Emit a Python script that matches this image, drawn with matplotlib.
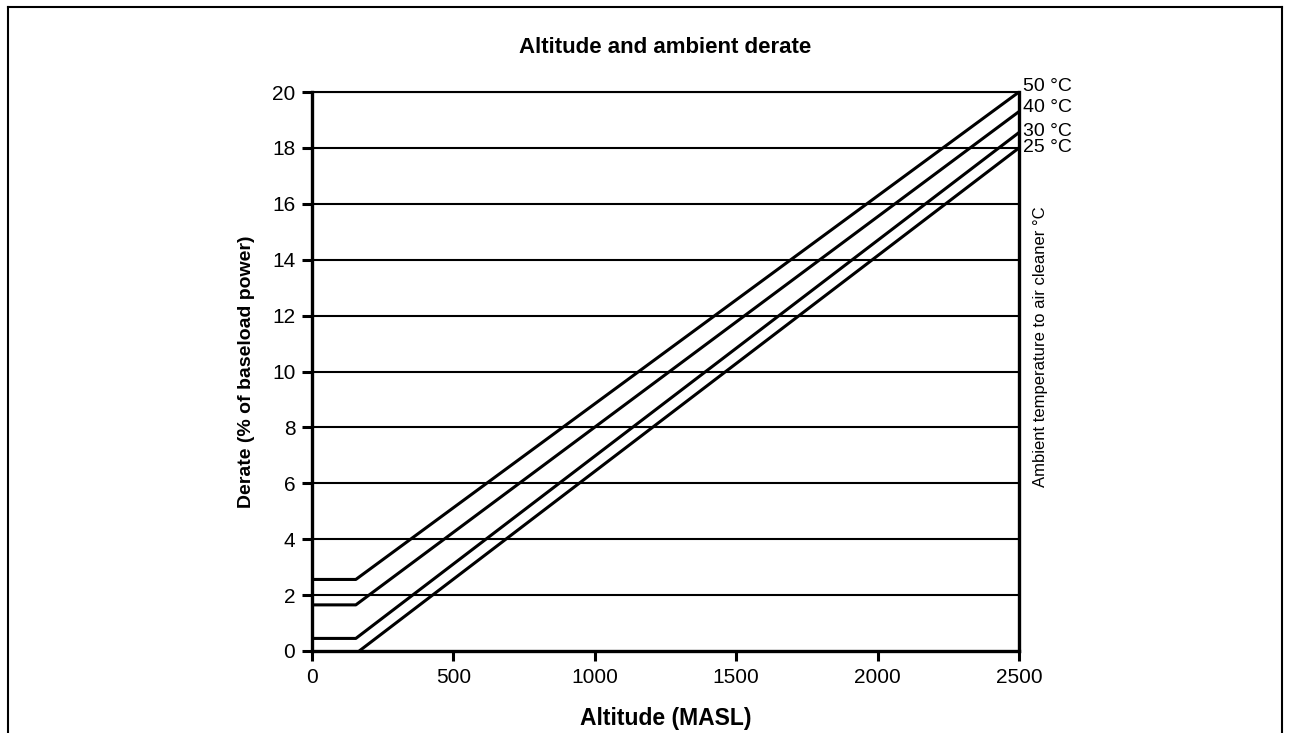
import matplotlib.pyplot as plt
from matplotlib.lines import Line2D

plt.rcParams['font.family'] = ['Liberation Sans', 'DejaVu Sans']

# Derate curves: altitude break points (MASL) and derate (% of baseload power)
alt_50 = [0, 155, 2500]
derate_50 = [2.56, 2.56, 20.0]
alt_40 = [0, 155, 2500]
derate_40 = [1.65, 1.65, 19.3]
alt_30 = [0, 155, 2500]
derate_30 = [0.45, 0.45, 18.55]
alt_25 = [167, 2500]
derate_25 = [0.0, 18.0]

temps = ['50 °C', '40 °C', '30 °C', '25 °C']
label_y = [20.2, 19.45, 18.6, 18.0]

x_ticks = [0, 500, 1000, 1500, 2000, 2500]
y_ticks = [0, 2, 4, 6, 8, 10, 12, 14, 16, 18, 20]

fig = plt.figure(figsize=(12.9, 7.33), dpi=100)
ax = fig.add_axes([312 / 1290, 1 - 651 / 733, 707 / 1290, 559 / 733])

for y in y_ticks[1:]:
    ax.axhline(y, color='black', lw=1.5, zorder=1)

lw = 2.2
ax.plot(alt_50, derate_50, color='black', lw=lw, solid_capstyle='butt')
ax.plot(alt_40, derate_40, color='black', lw=lw, solid_capstyle='butt')
ax.plot(alt_30, derate_30, color='black', lw=lw, solid_capstyle='butt')
ax.plot(alt_25, derate_25, color='black', lw=lw, solid_capstyle='butt')

ax.set_xlim(0, 2500)
ax.set_ylim(0, 20)
ax.set_xticks(x_ticks)
ax.set_yticks(y_ticks)
ax.tick_params(direction='out', length=7, width=2.2, labelsize=15, pad=5)
for s in ['left', 'right', 'bottom']:
    ax.spines[s].set_linewidth(2.4)
ax.spines['top'].set_linewidth(1.5)

for t, yv in zip(temps, label_y):
    ax.text(2515, yv, t, fontsize=14, va='center', ha='left', clip_on=False)

ax.text(1.031, 0.544, 'Ambient temperature to air cleaner °C', transform=ax.transAxes,
        rotation=90, va='center', ha='center', fontsize=12)

ax.set_title('Altitude and ambient derate', fontsize=16, fontweight='bold', pad=28)
ax.set_xlabel('Altitude (MASL)', fontsize=16.5, fontweight='bold', labelpad=15)
ax.set_ylabel('Derate (% of baseload power)', fontsize=14, fontweight='bold', labelpad=12)

# outer frame
W, H = 1290, 733
fig.add_artist(Line2D([8 / W, 8 / W], [0, 1 - 7 / H], color='black', lw=1.5))
fig.add_artist(Line2D([8 / W, 1282 / W], [1 - 7 / H, 1 - 7 / H], color='black', lw=1.5))
fig.add_artist(Line2D([1282 / W, 1282 / W], [0, 1 - 7 / H], color='black', lw=1.5))

fig.savefig('out.png', dpi=100)
